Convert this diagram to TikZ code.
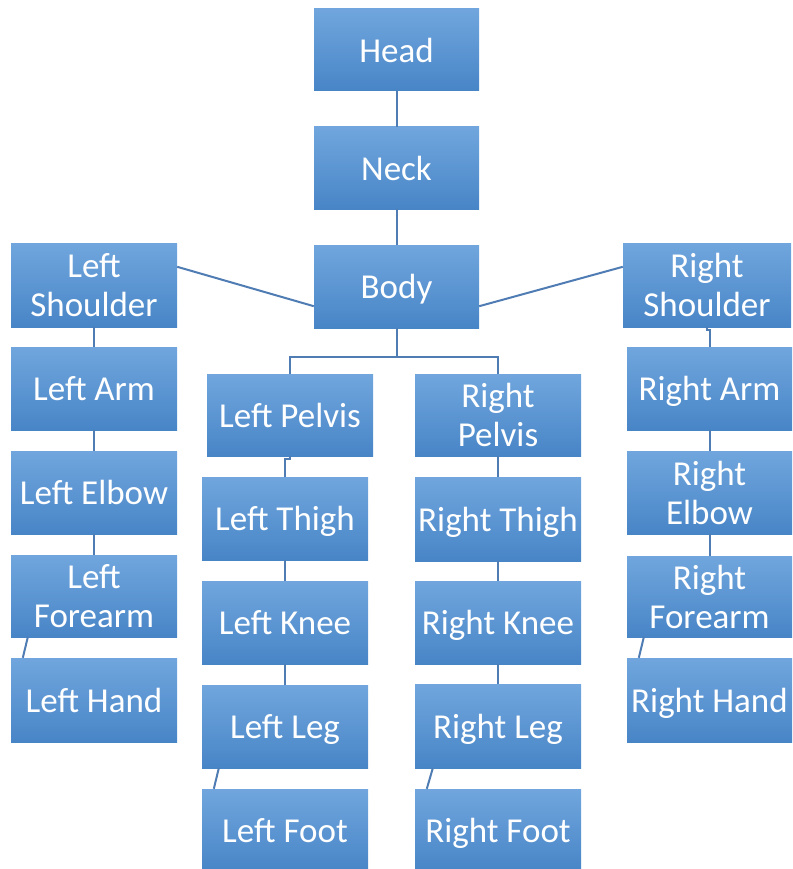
\documentclass[tikz,border=0pt]{standalone}
\usepackage{fontspec}
\setmainfont{Carlito}
\usetikzlibrary{calc}
\definecolor{boxtop}{RGB}{112,166,221}
\definecolor{boxbot}{RGB}{72,133,199}
\definecolor{linkc}{RGB}{80,124,180}
\tikzset{
  part/.style={rectangle, inner sep=0pt, top color=boxtop, bottom color=boxbot,
    text=white, align=center, font=\fontsize{35}{39}\selectfont,
    text depth=0pt, minimum width=166pt, minimum height=83pt},
  link/.style={draw=linkc, line width=2pt}
}
\begin{document}
\begin{tikzpicture}[x=1pt,y=-1pt]
\useasboundingbox (0,0) rectangle (792,869);
\clip (0,0) rectangle (792,869);
% centre column
\node[part, minimum width=165pt, minimum height=82pt] (head) at (396.5,50) {Head};
\node[part, minimum width=165pt, minimum height=82pt] (neck) at (396.5,168) {Neck};
\node[part, minimum width=165pt] (body) at (396.5,286.5) {Body};
% left column
\node[part, minimum height=84pt] (lsh) at (94,285) {Left\\Shoulder};
\node[part] (larm) at (94,388.5) {Left Arm};
\node[part] (lelb) at (94,492.5) {Left Elbow};
\node[part, minimum height=82pt] (lfa) at (94,596) {Left\\Forearm};
\node[part, minimum height=84pt] (lhand) at (94,700) {Left Hand};
% left leg
\node[part, minimum height=82pt] (lpel) at (290,415) {Left Pelvis};
\node[part] (lthi) at (285,518.5) {Left Thigh};
\node[part] (lkne) at (285,622.5) {Left Knee};
\node[part] (lleg) at (285,726.5) {Left Leg};
\node[part, minimum height=82pt] (lfoot) at (285,830) {Left Foot};
% right leg
\node[part, minimum height=82pt] (rpel) at (498,415) {Right\\Pelvis};
\node[part, minimum height=84pt] (rthi) at (498,519) {Right Thigh};
\node[part] (rkne) at (498,622.5) {Right Knee};
\node[part, minimum height=84pt] (rleg) at (498,726) {Right Leg};
\node[part, minimum height=82pt] (rfoot) at (498,830) {Right Foot};
% right column
\node[part, minimum width=168pt, minimum height=84pt] (rsh) at (707,285) {Right\\Shoulder};
\node[part, minimum width=165pt] (rarm) at (709.5,388.5) {Right Arm};
\node[part, minimum width=165pt] (relb) at (709.5,492.5) {Right\\Elbow};
\node[part, minimum width=165pt, minimum height=81pt] (rfa) at (709.5,596.5) {Right\\Forearm};
\node[part, minimum width=165pt, minimum height=84pt] (rhand) at (709.5,700) {Right Hand};
% connectors
\draw[link] (head.south) -- (neck.north);
\draw[link] (neck.south) -- (body.north);
\draw[link] ($(lsh.north east)+(0,24)$) -- ($(body.south west)+(0,-22)$);
\draw[link] ($(body.south east)+(0,-22)$) -- ($(rsh.north west)+(0,24)$);
\draw[link] (body.south) -- ++(0,29) -| (lpel.north);
\draw[link] (body.south) -- ++(0,29) -| (rpel.north);
\draw[link] (lsh.south) -- (larm.north);
\draw[link] (larm.south) -- (lelb.north);
\draw[link] (lelb.south) -- (lfa.north);
\draw[link] ($(lfa.south west)+(17,0)$) -- ($(lhand.north west)+(12,0)$);
\draw[link] (lpel.south) -- ++(0,3) -| (lthi.north);
\draw[link] (lthi.south) -- (lkne.north);
\draw[link] (lkne.south) -- (lleg.north);
\draw[link] ($(lleg.south west)+(17,0)$) -- ($(lfoot.north west)+(12,0)$);
\draw[link] (rpel.south) -- (rthi.north);
\draw[link] (rthi.south) -- (rkne.north);
\draw[link] (rkne.south) -- (rleg.north);
\draw[link] ($(rleg.south west)+(18,0)$) -- ($(rfoot.north west)+(12,0)$);
\draw[link] (rsh.south) -- ++(0,3) -| (rarm.north);
\draw[link] (rarm.south) -- (relb.north);
\draw[link] (relb.south) -- (rfa.north);
\draw[link] ($(rfa.south west)+(17,0)$) -- ($(rhand.north west)+(12,0)$);
\end{tikzpicture}
\end{document}
